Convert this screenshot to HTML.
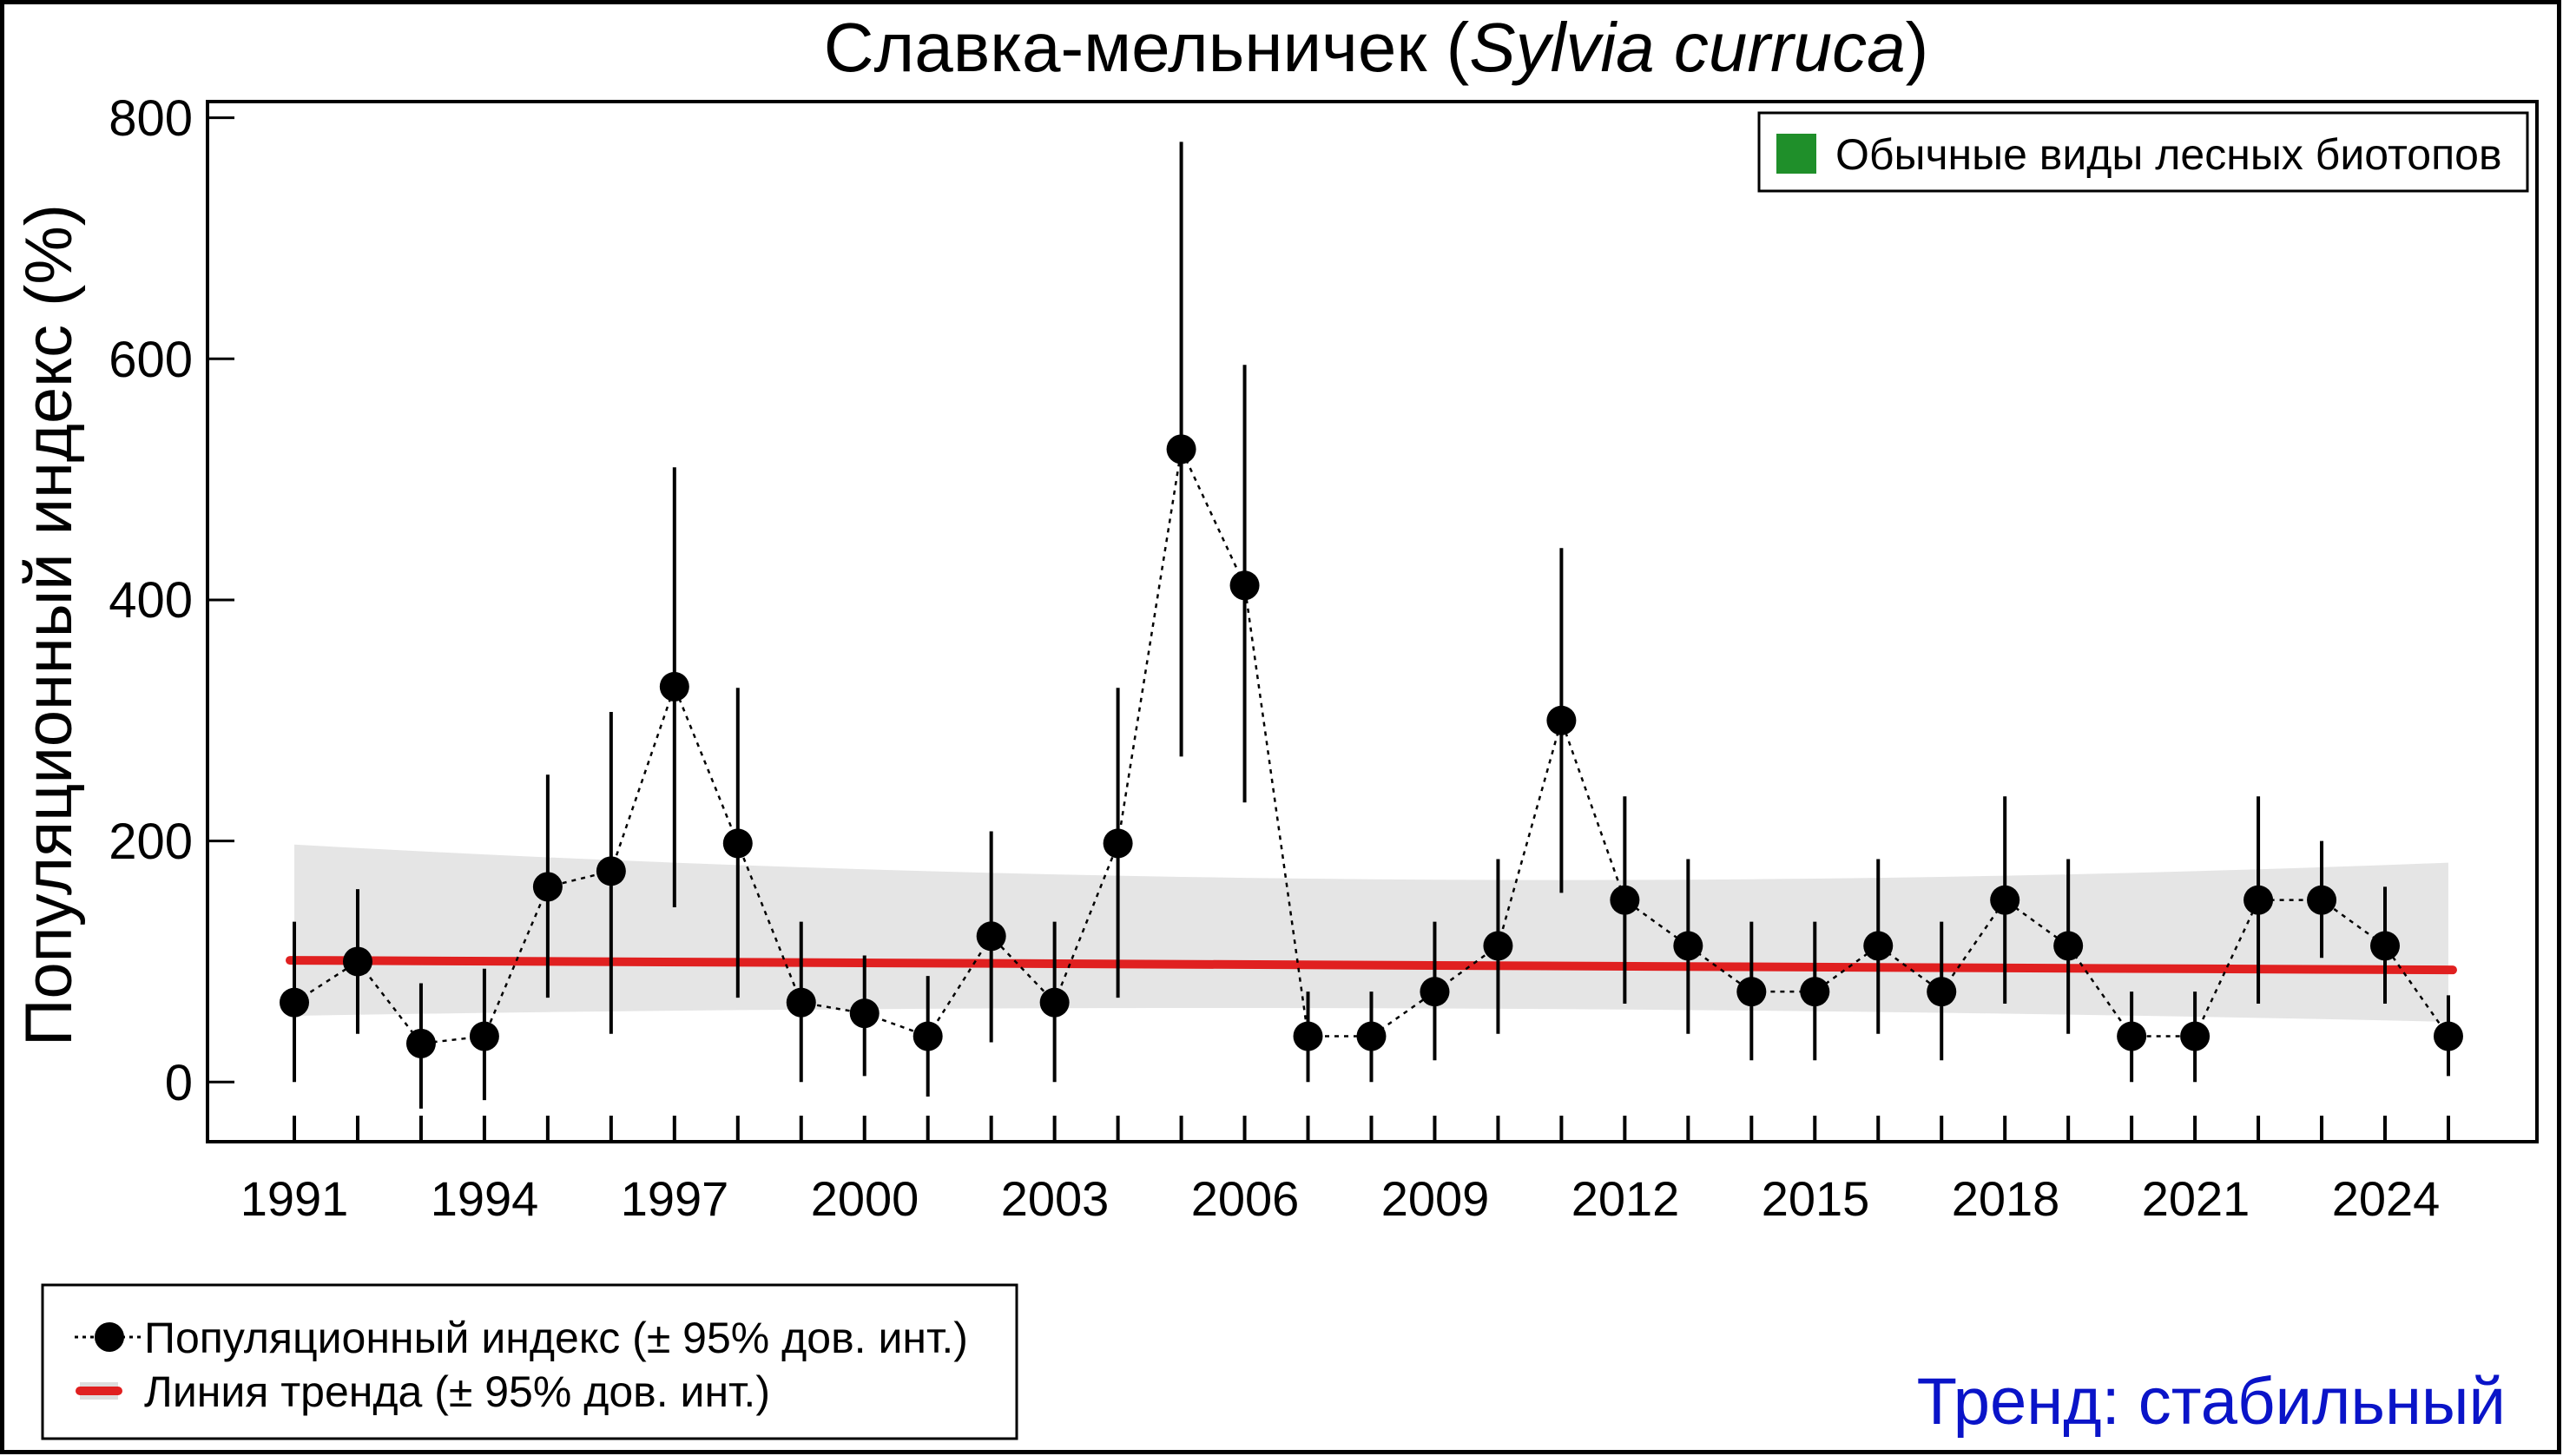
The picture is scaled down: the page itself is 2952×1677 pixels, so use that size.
<!DOCTYPE html>
<html><head><meta charset="utf-8"><style>
html,body{margin:0;padding:0;background:#fff}
svg{display:block}
text{font-family:"Liberation Sans",Arial,sans-serif}
</style></head><body>
<svg id="s" width="2952" height="1677" viewBox="0 0 2952 1677" xmlns="http://www.w3.org/2000/svg">
<rect x="2.5" y="2.5" width="2945" height="1670" fill="#fff" stroke="#000" stroke-width="5"/>
<g id="band"></g>
<g id="plot"></g>
<rect x="239" y="117" width="2683" height="1198" fill="none" stroke="#000" stroke-width="4"/>
<text x="1585" y="82" font-size="80" text-anchor="middle">Славка-мельничек (<tspan font-style="italic">Sylvia curruca</tspan>)</text>
<g font-size="58" text-anchor="end">
<text x="222" y="1267">0</text>
<text x="222" y="989">200</text>
<text x="222" y="711">400</text>
<text x="222" y="434">600</text>
<text x="222" y="156">800</text>
</g>
<g font-size="56" text-anchor="middle">
<text x="339" y="1400">1991</text>
<text x="558" y="1400">1994</text>
<text x="777" y="1400">1997</text>
<text x="996" y="1400">2000</text>
<text x="1215" y="1400">2003</text>
<text x="1434" y="1400">2006</text>
<text x="1653" y="1400">2009</text>
<text x="1872" y="1400">2012</text>
<text x="2091" y="1400">2015</text>
<text x="2310" y="1400">2018</text>
<text x="2529" y="1400">2021</text>
<text x="2748" y="1400">2024</text>
</g>
<text transform="translate(82,720) rotate(-90)" font-size="76" text-anchor="middle" textLength="970" lengthAdjust="spacingAndGlyphs">Популяционный индекс (%)</text>
<rect x="2026" y="130" width="885" height="90" fill="#fff" stroke="#000" stroke-width="3"/>
<rect x="2046" y="154" width="46" height="46" fill="#1f8f2a"/>
<text x="2114" y="195" font-size="50">Обычные виды лесных биотопов</text>
<rect x="49" y="1480" width="1122" height="177" fill="#fff" stroke="#000" stroke-width="3"/>
<line x1="86" y1="1540" x2="166" y2="1540" stroke="#000" stroke-width="3" stroke-dasharray="4 5"/>
<circle cx="126" cy="1540" r="17" fill="#000"/>
<text x="166" y="1558" font-size="50">Популяционный индекс (± 95% дов. инт.)</text>
<rect x="92" y="1592" width="44" height="20" fill="#ddd"/>
<line x1="92" y1="1602" x2="136" y2="1602" stroke="#e02020" stroke-width="10" stroke-linecap="round"/>
<text x="166" y="1620" font-size="50">Линия тренда (± 95% дов. инт.)</text>
<text x="2886" y="1640" font-size="76" fill="#0a14c8" text-anchor="end">Тренд: стабильный</text>
</svg>
<script>
var ns="http://www.w3.org/2000/svg";
function X(y){return 339+(y-1991)*72.97}
function Y(v){return 1246.3-v*1.3884}
function el(p,t,a){var e=document.createElementNS(ns,t);for(var k in a)e.setAttribute(k,a[k]);p.appendChild(e);return e}
var d=[[66,0,133],[100,40,160],[32,-22,82],[38,-15,94],[162,70,255],[175,40,307],[328,145,510],[198,70,327],[66,0,133],[57,5,105],[38,-12,88],[121,33,208],[66,0,133],[198,70,327],[525,270,780],[412,232,595],[38,0,75],[38,0,75],[75,18,133],[113,40,185],[300,157,443],[151,65,237],[113,40,185],[75,18,133],[75,18,133],[113,40,185],[75,18,133],[151,65,237],[113,40,185],[38,0,75],[38,0,75],[151,65,237],[151,103,200],[113,65,162],[38,5,72]];
var band=document.getElementById('band'),plot=document.getElementById('plot');
var up=[],lo=[];
for(var i=0;i<=34;i++){var t=i/34;
 var u=197-100*t+ (t*t)*85;
 var l=55+30*t-35*t*t;
 up.push(X(1991+i)+","+Y(u));lo.unshift(X(1991+i)+","+Y(l));}
el(band,'polygon',{points:up.concat(lo).join(' '),fill:'#e5e5e5'});
for(var v=0;v<=800;v+=200)el(plot,'line',{x1:239,x2:270,y1:Y(v),y2:Y(v),stroke:'#000','stroke-width':3});
for(var i=0;i<35;i++)el(plot,'line',{x1:X(1991+i),x2:X(1991+i),y1:1285,y2:1315,stroke:'#000','stroke-width':4});
el(plot,'line',{x1:X(1991)-5,y1:Y(101),x2:X(2025)+5,y2:Y(93),stroke:'#e02020','stroke-width':10,'stroke-linecap':'round'});
var pts=d.map(function(r,i){return X(1991+i)+","+Y(r[0])}).join(' ');
el(plot,'polyline',{points:pts,fill:'none',stroke:'#000','stroke-width':2.5,'stroke-dasharray':'5 6'});
d.forEach(function(r,i){var x=X(1991+i);
 el(plot,'line',{x1:x,x2:x,y1:Y(r[1]),y2:Y(r[2]),stroke:'#000','stroke-width':4});
 el(plot,'circle',{cx:x,cy:Y(r[0]),r:17,fill:'#000'});});
</script>
</body></html>
